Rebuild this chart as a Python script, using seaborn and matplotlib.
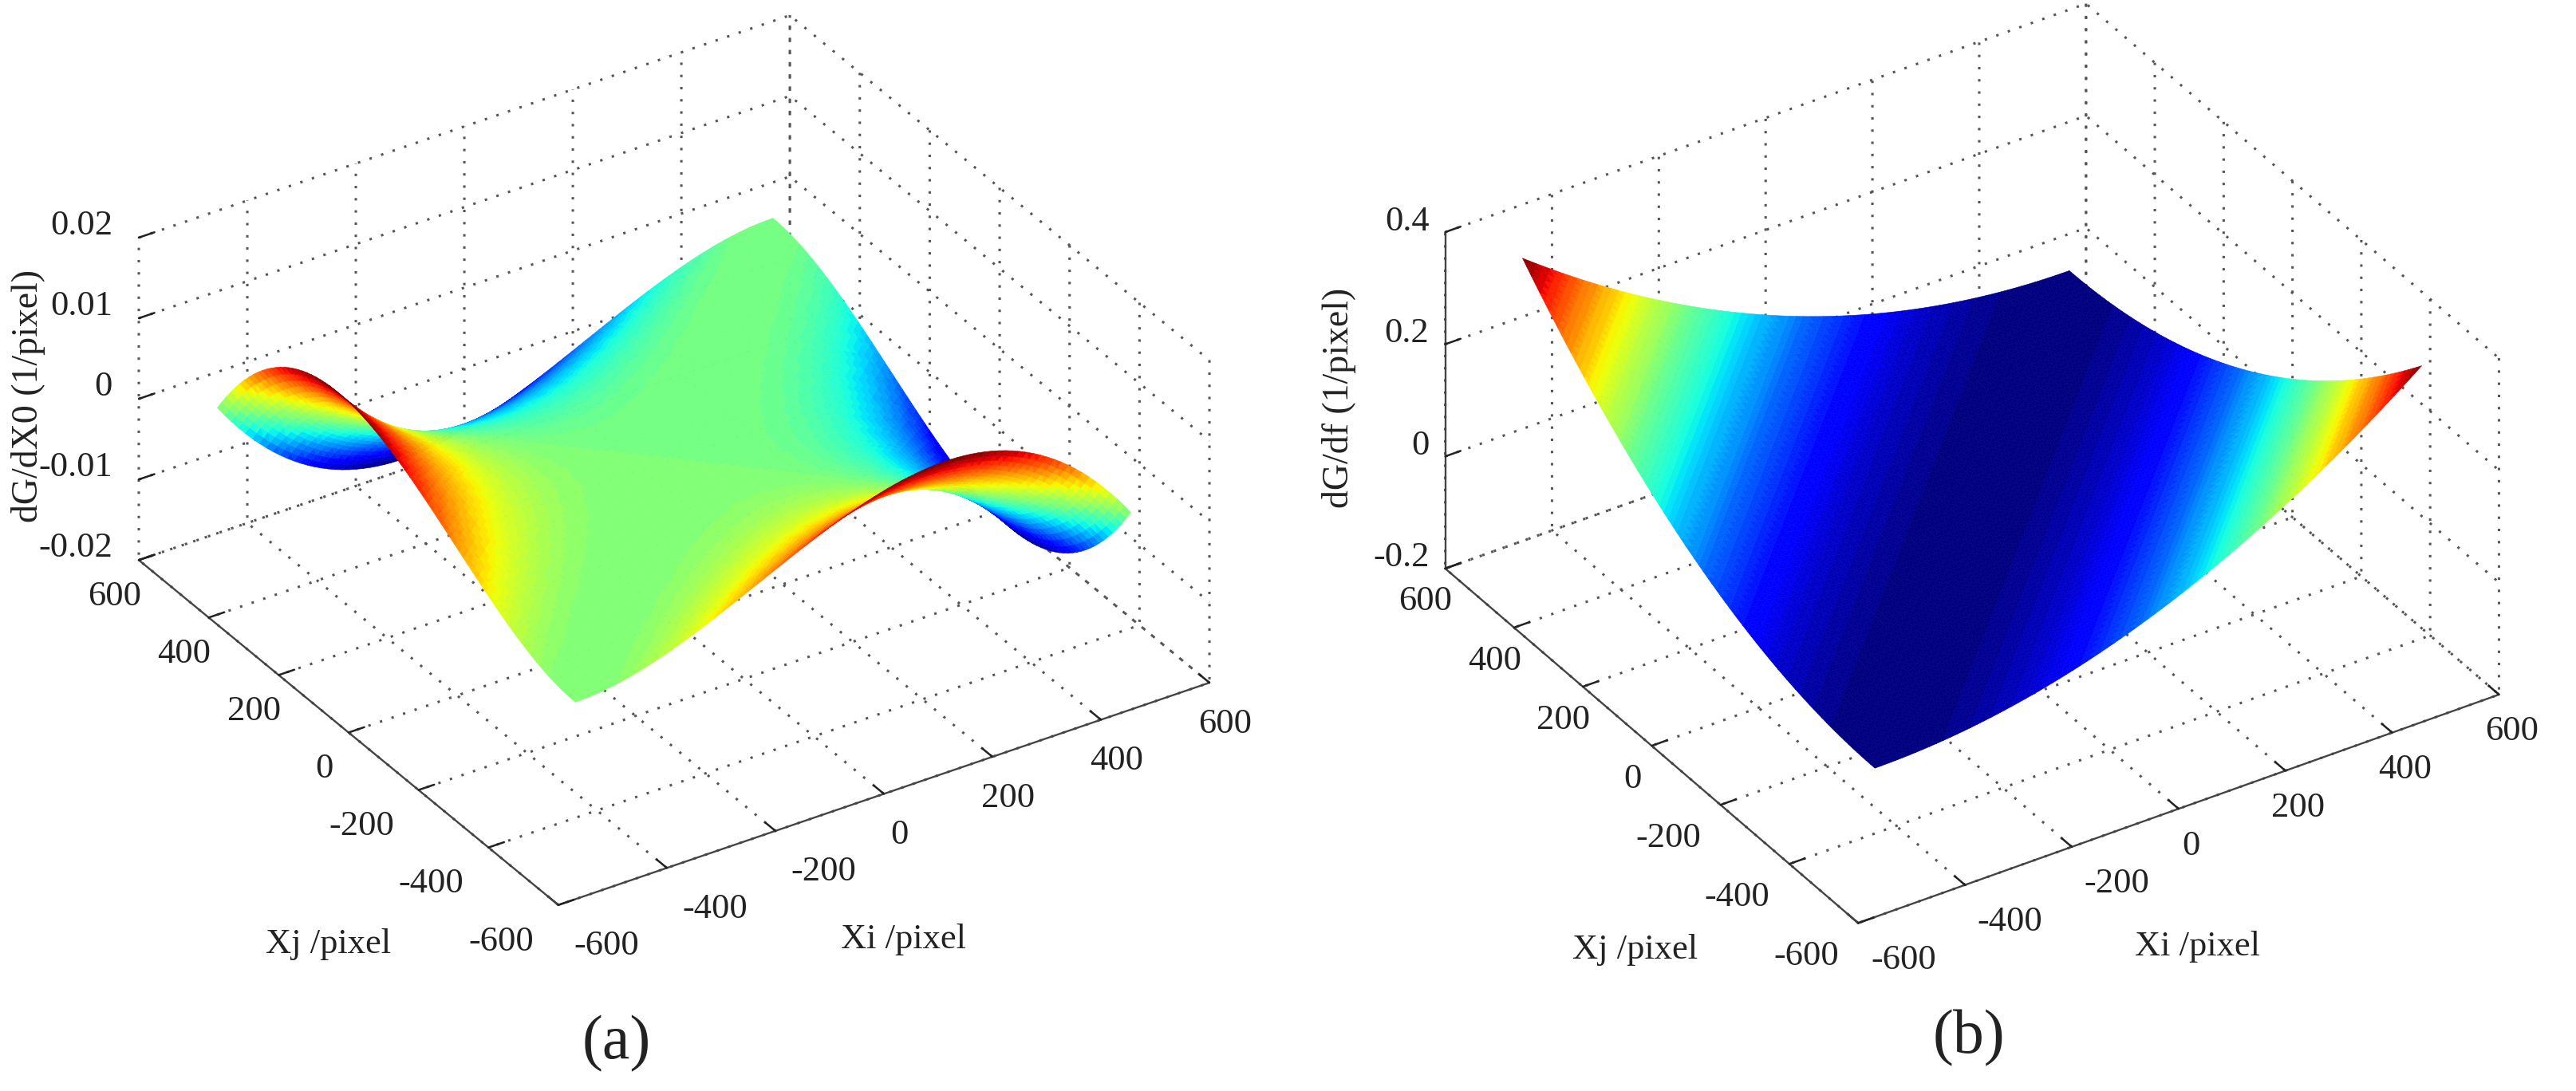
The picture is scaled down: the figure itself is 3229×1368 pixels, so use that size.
import numpy as np
import matplotlib
matplotlib.use("Agg")
import matplotlib.pyplot as plt
from matplotlib.colors import Normalize
import seaborn as sns

xi_first, xi_step = -512.0, 12.8
a_across_sum = [24.0, 23.7, 23.4, 23.1, 22.8, 22.5, 22.2, 21.9, 21.6, 21.3, 21.0, 20.7, 20.4, 20.1, 19.8, 19.5, 19.2, 18.9,
                18.6, 18.3, 18.0, 17.7, 17.4, 17.1, 16.8, 16.5, 16.2, 15.9, 15.6, 15.3, 15.0, 14.7, 14.4, 14.1, 13.8, 13.5,
                13.2, 12.9, 12.6, 12.3, 12.0, 11.7, 11.4, 11.1, 10.8, 10.5, 10.2, 9.9, 9.6, 9.3, 9.0, 8.7, 8.4, 8.1, 7.8, 7.5,
                7.2, 6.9, 6.6, 6.3, 6.0, 5.7, 5.4, 5.1, 4.8, 4.5, 4.2, 3.9, 3.6, 3.3, 3.0, 2.7, 2.4, 2.1, 1.8, 1.5, 1.2, 0.9,
                0.6, 0.3, 0.0, -0.3, -0.6, -0.9, -1.2, -1.5, -1.8, -2.1, -2.4, -2.7, -3.0, -3.3, -3.6, -3.9, -4.2, -4.5, -4.8,
                -5.1, -5.4, -5.7, -6.0, -6.3, -6.6, -6.9, -7.2, -7.5, -7.8, -8.1, -8.4, -8.7, -9.0, -9.3, -9.6, -9.9, -10.2,
                -10.5, -10.8, -11.1, -11.4, -11.7, -12.0, -12.3, -12.6, -12.9, -13.2, -13.5, -13.8, -14.1, -14.4, -14.7,
                -15.0, -15.3, -15.6, -15.9, -16.2, -16.5, -16.8, -17.1, -17.4, -17.7, -18.0, -18.3, -18.6, -18.9, -19.2,
                -19.5, -19.8, -20.1, -20.4, -20.7, -21.0, -21.3, -21.6, -21.9, -22.2, -22.5, -22.8, -23.1, -23.4, -23.7, -24.0]
a_across_diff = [0, 0.0006, 0.0025, 0.0056, 0.01, 0.0156, 0.0225, 0.0306, 0.04, 0.0506, 0.0625, 0.0756, 0.09, 0.1056, 0.1225,
                 0.1406, 0.16, 0.1806, 0.2025, 0.2256, 0.25, 0.2756, 0.3025, 0.3306, 0.36, 0.3906, 0.4225, 0.4556, 0.49, 0.5256,
                 0.5625, 0.6006, 0.64, 0.6806, 0.7225, 0.7656, 0.81, 0.8556, 0.9025, 0.9506, 1.0, 1.0506, 1.1025, 1.1556, 1.21,
                 1.2656, 1.3225, 1.3806, 1.44, 1.5006, 1.5625, 1.6256, 1.69, 1.7556, 1.8225, 1.8906, 1.96, 2.0306, 2.1025,
                 2.1756, 2.25, 2.3256, 2.4025, 2.4806, 2.56, 2.6406, 2.7225, 2.8056, 2.89, 2.9756, 3.0625, 3.1506, 3.24,
                 3.3306, 3.4225, 3.5156, 3.61, 3.7056, 3.8025, 3.9006, 4.0]
b_across_diff = [0, 0.00006, 0.00023, 0.00052, 0.00093, 0.00144, 0.00208, 0.00283, 0.0037, 0.00468, 0.00578, 0.00699, 0.00833,
                 0.00977, 0.01133, 0.01301, 0.0148, 0.01671, 0.01873, 0.02087, 0.02313, 0.02549, 0.02798, 0.03058, 0.0333,
                 0.03613, 0.03908, 0.04214, 0.04533, 0.04862, 0.05203, 0.05556, 0.0592, 0.06296, 0.06683, 0.07082, 0.07493,
                 0.07914, 0.08348, 0.08793, 0.0925, 0.09718, 0.10198, 0.10689, 0.11193, 0.11707, 0.12233, 0.12771, 0.1332,
                 0.13881, 0.14453, 0.15037, 0.15633, 0.16239, 0.16858, 0.17488, 0.1813, 0.18783, 0.19448, 0.20124, 0.20813,
                 0.21512, 0.22223, 0.22946, 0.2368, 0.24426, 0.25183, 0.25952, 0.26733, 0.27524, 0.28328, 0.29143, 0.2997,
                 0.30808, 0.31658, 0.3252, 0.33393, 0.34277, 0.35173, 0.36081, 0.37]
xy_ticks = [-600, -400, -200, 0, 200, 400, 600]
xy_ticklabels = ["-600", "-400", "-200", "0", "200", "400", "600"]
a_zticks = [-0.02, -0.01, 0, 0.01, 0.02]
a_zticklabels = ["-0.02", "-0.01", "0", "0.01", "0.02"]
b_zticks = [-0.2, 0, 0.2, 0.4]
b_zticklabels = ["-0.2", "0", "0.2", "0.4"]

W, H = 3230, 1368
sns.set_theme(style="white", font="Liberation Serif")
plt.rcParams["axes.unicode_minus"] = False
fig = plt.figure(figsize=(W / 100, H / 100), dpi=100, facecolor="white")
jet = matplotlib.colormaps["jet"].resampled(64)

n = len(a_across_diff)
I, J = np.meshgrid(np.arange(n), np.arange(n), indexing="ij")
X = xi_first + xi_step * I
Y = xi_first + xi_step * J
Za = np.array(a_across_sum)[I + J] * 1e-3 * np.array(a_across_diff)[np.abs(I - J)]
Zb = np.array(b_across_diff)[np.abs(I - J)]
ids = np.arange(n * n).reshape(n, n)
a0, b0, c0, d0 = ids[:-1, :-1].ravel(), ids[1:, :-1].ravel(), ids[1:, 1:].ravel(), ids[:-1, 1:].ravel()
tris = np.vstack([np.c_[a0, b0, c0], np.c_[a0, c0, d0]])


def panel(center, side, elev, aspect, Z, zlim, zticks, zlabels, norm, zline, xy_pad, z_pad):
    left = center[0] - 0.5135 * side
    bottom = H - center[1] - 0.5135 * side
    ax = fig.add_axes([left / W, bottom / H, side / W, side / H], projection="3d")
    ax.set_proj_type("ortho")
    ax.view_init(elev=elev, azim=-122.8)
    ax.set_box_aspect(aspect)
    surf = ax.plot_trisurf(X.ravel(), Y.ravel(), Z.ravel(), triangles=tris, cmap=jet, norm=norm,
                           linewidth=0.4, antialiased=True, shade=False)
    surf.set_edgecolor("face")
    ax.set_xlim(-600, 600)
    ax.set_ylim(-600, 600)
    ax.set_zlim(*zlim)
    ax.set_xticks(xy_ticks, xy_ticklabels)
    ax.set_yticks(xy_ticks, xy_ticklabels)
    ax.set_zticks(zticks, zlabels, ha="right", va="baseline")
    ax.tick_params(axis="both", labelsize=32, colors="#222222", pad=xy_pad)
    ax.tick_params(axis="z", pad=z_pad)
    for t, s in zip(ax.get_xticklabels(), xy_ticklabels):
        t.set_ha("left" if s.startswith("-") else "center")
    for t, s in zip(ax.get_yticklabels(), xy_ticklabels):
        t.set_ha("right" if s.startswith("-") else "center")
    for axis in (ax.xaxis, ax.yaxis, ax.zaxis):
        axis.set_pane_color((1, 1, 1, 0))
        axis.pane.set_edgecolor("none")
        axis.line.set_color("#444444")
        axis.line.set_linewidth(1.7)
        axis._axinfo["grid"].update(color="#555555", linestyle=(0, (1, 4)), linewidth=2.2)
        axis._axinfo["tick"].update(inward_factor=0, outward_factor=0.3, linewidth={True: 1.8, False: 1.8})
    ax.zaxis.line.set_visible(zline)
    ax.grid(True)
    return ax


panel((845, 577), 1411, 32, (1796, 1796, 882), Za, (-0.02, 0.02), a_zticks, a_zticklabels,
      Normalize(-0.0142, 0.0142), False, 12, 5)
panel((2472, 581), 1401, 33.6, (1768, 1768, 937), Zb, (-0.2, 0.4), b_zticks, b_zticklabels,
      Normalize(0, 0.37), True, 8, 0)


def label(x, y, s, size=32, **kw):
    fig.text(x * 2.06 / W, 1 - y * 2.06 / H, s, fontsize=size, ha="center", va="center", color="#222222", **kw)


label(17, 241, "dG/dX0 (1/pixel)", size=33, rotation=90)
label(200, 575, "Xj /pixel")
label(550, 572, "Xi /pixel")
label(375, 635, "(a)", size=56)
label(815, 242, "dG/df (1/pixel)", size=33, rotation=90)
label(995, 578, "Xj /pixel")
label(1337, 576, "Xi /pixel")
label(1198, 632, "(b)", size=56)

fig.savefig("out.png", dpi=100, facecolor="white")
